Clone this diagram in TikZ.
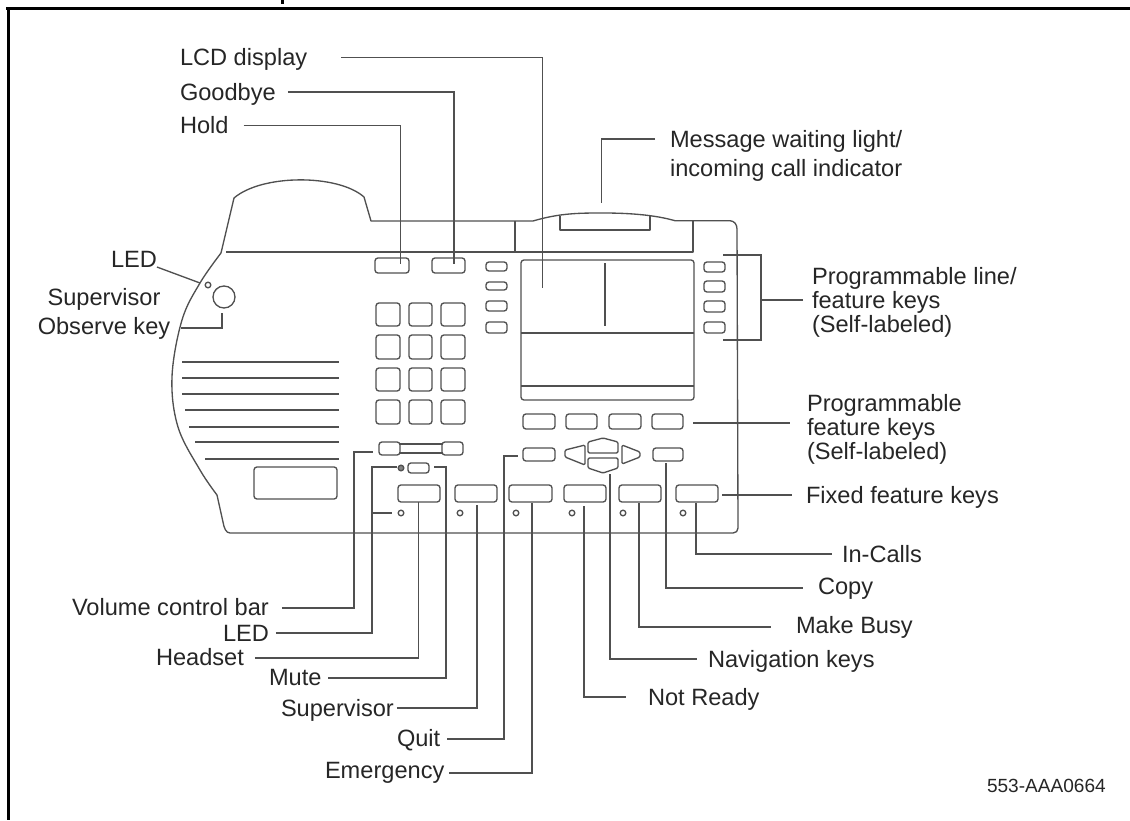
\documentclass[tikz,border=0pt]{standalone}
\usepackage{fontspec}
\setmainfont{Liberation Sans}
\definecolor{ink}{HTML}{505050}
\definecolor{txt}{HTML}{262626}
\tikzset{
  x=0.75pt,y=-0.75pt,
  lead/.style={draw=ink,line width=1pt,line join=miter},
  body/.style={draw=ink,line width=1pt,line join=round},
  keybox/.style={draw=ink,line width=1pt,rounded corners=2.2pt,inner sep=0pt,outer sep=0pt},
  ledbox/.style={circle,draw=ink,line width=1pt,inner sep=0pt,outer sep=0pt,minimum size=4.2pt},
  lbl/.style={inner sep=0pt,outer sep=0pt,text=txt,anchor=base west,font=\fontsize{17.7}{21}\selectfont},
  gapa/.style={shorten <={#1*0.75pt}},
  gapb/.style={shorten >={#1*0.75pt}},
}
\newcommand{\keyat}[5]{\node[keybox,minimum width={(#4-#2)*0.75pt},minimum height={(#5-#3)*0.75pt}] (#1) at ({(#2+#4)/2},{(#3+#5)/2}) {};}
\begin{document}
\begin{tikzpicture}
\useasboundingbox (0,0) rectangle (1130,820);
% frame
\fill[black] (6,7) rectangle (1130,10);
\fill[black] (7,7) rectangle (10,820);
\fill[black] (281,0) rectangle (284,4);
% body outline
\draw[body] plot[smooth,tension=0.6] coordinates {(221,253) (200,283) (182,320) (172,377) (178,427) (200,470) (217,495)};
\draw[body] (221,253) -- (234,198) .. controls (262,174) and (338,174) .. (364,197) -- (371,221) -- (533,221)
  .. controls (560,213) and (580,213) .. (603,213) .. controls (630,213) and (655,215) .. (675,220.7)
  -- (730,220.7) .. controls (734,221) and (737,224) .. (737,229) -- (738,528) .. controls (738,531) and (736,533) .. (733,533)
  -- (230,533) .. controls (226,533) and (224,528) .. (223,522) -- (217,495);
\draw[body] (226,252) -- (693,252) -- (693,221);
\draw[body] (515,221) -- (515,253);
\draw[body] (560,216) -- (560,230) -- (650,230) -- (650,216);
% speaker
\foreach \ya/\xa in {362/182,378/182,394/182,410/185,427/189,442/195,459/205}{\draw[body] (\xa,\ya) -- (339,\ya);}
\keyat{plate}{254}{467}{337}{499}
% top left
\node[ledbox] (ledA) at (208,285) {};
\node[circle,draw=ink,line width=1pt,inner sep=0pt,outer sep=0pt,minimum size=16.5pt] (obsKey) at (224,297) {};
% keys
\keyat{holdK}{375}{258}{409}{273}
\keyat{byeK}{432}{258}{465}{273}
\keyat{la}{486}{262}{507}{271}
\keyat{lb}{486}{282}{507}{290}
\keyat{lc}{486}{301}{507}{311}
\keyat{ld}{486}{322}{507}{333}
\keyat{ra}{704}{262}{725}{272}
\keyat{rb}{704}{281}{725}{292}
\keyat{rc}{704}{301}{725}{312}
\keyat{rd}{704}{322}{725}{333}
\foreach \ya/\yb [count=\i] in {303/326,335/359,368/391,400/424}{
  \keyat{na\i}{376}{\ya}{400}{\yb}
  \keyat{nb\i}{409}{\ya}{432}{\yb}
  \keyat{nc\i}{441}{\ya}{465}{\yb}
}
% LCD
\keyat{lcd}{521}{260}{694}{400}
\draw[body] (lcd.west |- 0,333) -- (lcd.east |- 0,333);
\draw[body] (lcd.west |- 0,386) -- (lcd.east |- 0,386);
\draw[body] (605,263) -- (605,326);
% soft keys
\keyat{sa}{523}{414}{555}{429}
\keyat{sb}{566}{414}{597}{429}
\keyat{sc}{609}{414}{641}{429}
\keyat{sd}{652}{414}{683}{429}
% volume
\keyat{va}{379}{442}{400}{455}
\keyat{vb}{442}{442}{463}{455}
\draw[body] (va.east |- 0,444) -- (vb.west |- 0,444);
\draw[body] (va.east |- 0,453) -- (vb.west |- 0,453);
% mute, quit, copy row
\node[ledbox,fill=ink!70] (ledM) at (401,468) {};
\keyat{mute}{408}{463}{429}{473}
\keyat{quit}{523}{448}{555}{461}
\keyat{copy}{653}{448}{683}{461}
% navigation keys
\draw[body,rounded corners=1pt] (585,445) -- (565,450) -- (565,457) -- (585,465) -- cycle;
\draw[body,rounded corners=1pt] (588,442) -- (603,438) -- (618,442) -- (618,453) -- (588,453) -- cycle;
\draw[body,rounded corners=1pt] (588,458) -- (618,458) -- (618,468) -- (603,473) -- (588,468) -- cycle;
\draw[body,rounded corners=1pt] (622,445) -- (640,452) -- (640,457) -- (622,464) -- cycle;
% fixed keys
\keyat{fa}{398}{485}{440}{502}
\keyat{fb}{455}{485}{497}{502}
\keyat{fc}{509}{485}{552}{502}
\keyat{fd}{564}{485}{606}{502}
\keyat{fe}{619}{485}{661}{502}
\keyat{ff}{676}{485}{718}{502}
\foreach \xa [count=\i] in {401,460,516,572,623,683}{\node[ledbox] (led\i) at (\xa,513) {};}
% labels
\node[lbl] (tLcd) at (180,66) {LCD display};
\node[lbl] (tBye) at (180,101) {Goodbye};
\node[lbl] (tHold) at (180,134) {Hold};
\node[lbl,anchor=north west,align=left,font=\fontsize{17.7}{21.75}\selectfont] (tMsg) at (670,130) {Message waiting light/\\incoming call indicator};
\node[lbl] (tLedA) at (111,267) {LED};
\node[lbl,anchor=north,align=center,font=\fontsize{17.7}{21.75}\selectfont] (tObs) at (104,288) {Supervisor\\Observe key};
\node[lbl,anchor=north west,align=left,font=\fontsize{17.7}{18.3}\selectfont] (tProgA) at (812,267) {Programmable line/\\feature keys\\(Self-labeled)};
\node[lbl,anchor=north west,align=left,font=\fontsize{17.7}{18.3}\selectfont] (tProgB) at (807,394) {Programmable\\feature keys\\(Self-labeled)};
\node[lbl] (tFixed) at (806,503) {Fixed feature keys};
\node[lbl] (tIn) at (842,562) {In-Calls};
\node[lbl] (tCopy) at (818,594) {Copy};
\node[lbl] (tBusy) at (796,633) {Make Busy};
\node[lbl] (tNav) at (708,667) {Navigation keys};
\node[lbl] (tNot) at (648,705) {Not Ready};
\node[lbl] (tVol) at (72,615) {Volume control bar};
\node[lbl] (tLedB) at (223,641) {LED};
\node[lbl] (tHead) at (156,665) {Headset};
\node[lbl] (tMute) at (269,685) {Mute};
\node[lbl] (tSup) at (281,716) {Supervisor};
\node[lbl] (tQuit) at (397,746) {Quit};
\node[lbl] (tEmer) at (325,778) {Emergency};
\node[lbl,font=\fontsize{14.3}{17}\selectfont] (tCode) at (987,792) {553-AAA0664};
% connector ends
\coordinate (eLcd) at (542.5,288);
\coordinate (eBye) at (454,264);
\coordinate (eHold) at (400.5,264);
\coordinate (eMsg) at (601.5,203);
\coordinate (eLedA) at (200,283);
\coordinate (eObs) at (222,313);
\coordinate (brT) at (723,255);
\coordinate (brB) at (723,340);
\coordinate (brC) at (761,255);
\coordinate (brD) at (761,340);
\coordinate (brM) at (761,300);
\coordinate (cVol) at (354,452);
\coordinate (eVol) at (373,452);
\coordinate (cLed) at (372,467);
\coordinate (eLedM) at (397,467);
\coordinate (cLedL) at (372,513);
\coordinate (eLedL) at (392,513);
\coordinate (eHead) at (418.5,502);
\coordinate (cMute) at (446,467);
\coordinate (eMute) at (434,467);
\coordinate (eSup) at (477,505);
\coordinate (cQuit) at (504,456);
\coordinate (eQuit) at (518,456);
\coordinate (eEmer) at (532,503);
\coordinate (eNot) at (584,506);
\coordinate (eNav) at (610,474);
\coordinate (eBusy) at (639,503);
\coordinate (eCopy) at (666,463);
\coordinate (eIn) at (696,503);
% connectors
\draw[lead,gapa=34] (tLcd.east |- 0,57.5) -| (eLcd);
\draw[lead,gapa=12] (tBye.east |- 0,92) -| (eBye);
\draw[lead,gapa=15] (tHold.east |- 0,125.5) -| (eHold);
\draw[lead,gapa=15] (tMsg.west |- 0,139) -| (eMsg);
\draw[lead] (tLedA.south east) -- (eLedA);
\draw[lead,gapa=11] (tObs.east |- 0,328) -| (eObs);
\draw[lead] (brT) -- (brC) -- (brD) -- (brB);
\draw[lead,gapa=9] (tProgA.west |- brM) -- (brM);
\draw[lead,gapa=10,gapb=17] (sd.east |- 0,423) -- (tProgB.west |- 0,423);
\draw[lead,gapa=4,gapb=14] (ff.east |- 0,495) -- (tFixed.west |- 0,495);
\draw[lead,gapb=10] (eIn) |- (tIn.west |- 0,554);
\draw[lead,gapb=15] (eCopy) |- (tCopy.west |- 0,588);
\draw[lead,gapb=25] (eBusy) |- (tBusy.west |- 0,627);
\draw[lead,gapb=11] (eNav) |- (tNav.west |- 0,659);
\draw[lead,gapb=22] (eNot) |- (tNot.west |- 0,697);
\draw[lead,gapa=13] (tVol.east |- 0,608) -| (cVol) -- (eVol);
\draw[lead,gapa=7] (tLedB.east |- 0,633) -| (cLed) -- (eLedM);
\draw[lead] (cLedL) -- (eLedL);
\draw[lead,gapa=11] (tHead.east |- 0,658) -| (eHead);
\draw[lead,gapa=7] (tMute.east |- 0,678) -| (cMute) -- (eMute);
\draw[lead,gapa=3] (tSup.east |- 0,708) -| (eSup);
\draw[lead,gapa=7] (tQuit.east |- 0,739) -| (cQuit) -- (eQuit);
\draw[lead,gapa=5] (tEmer.east |- 0,773) -| (eEmer);
\end{tikzpicture}
\end{document}
